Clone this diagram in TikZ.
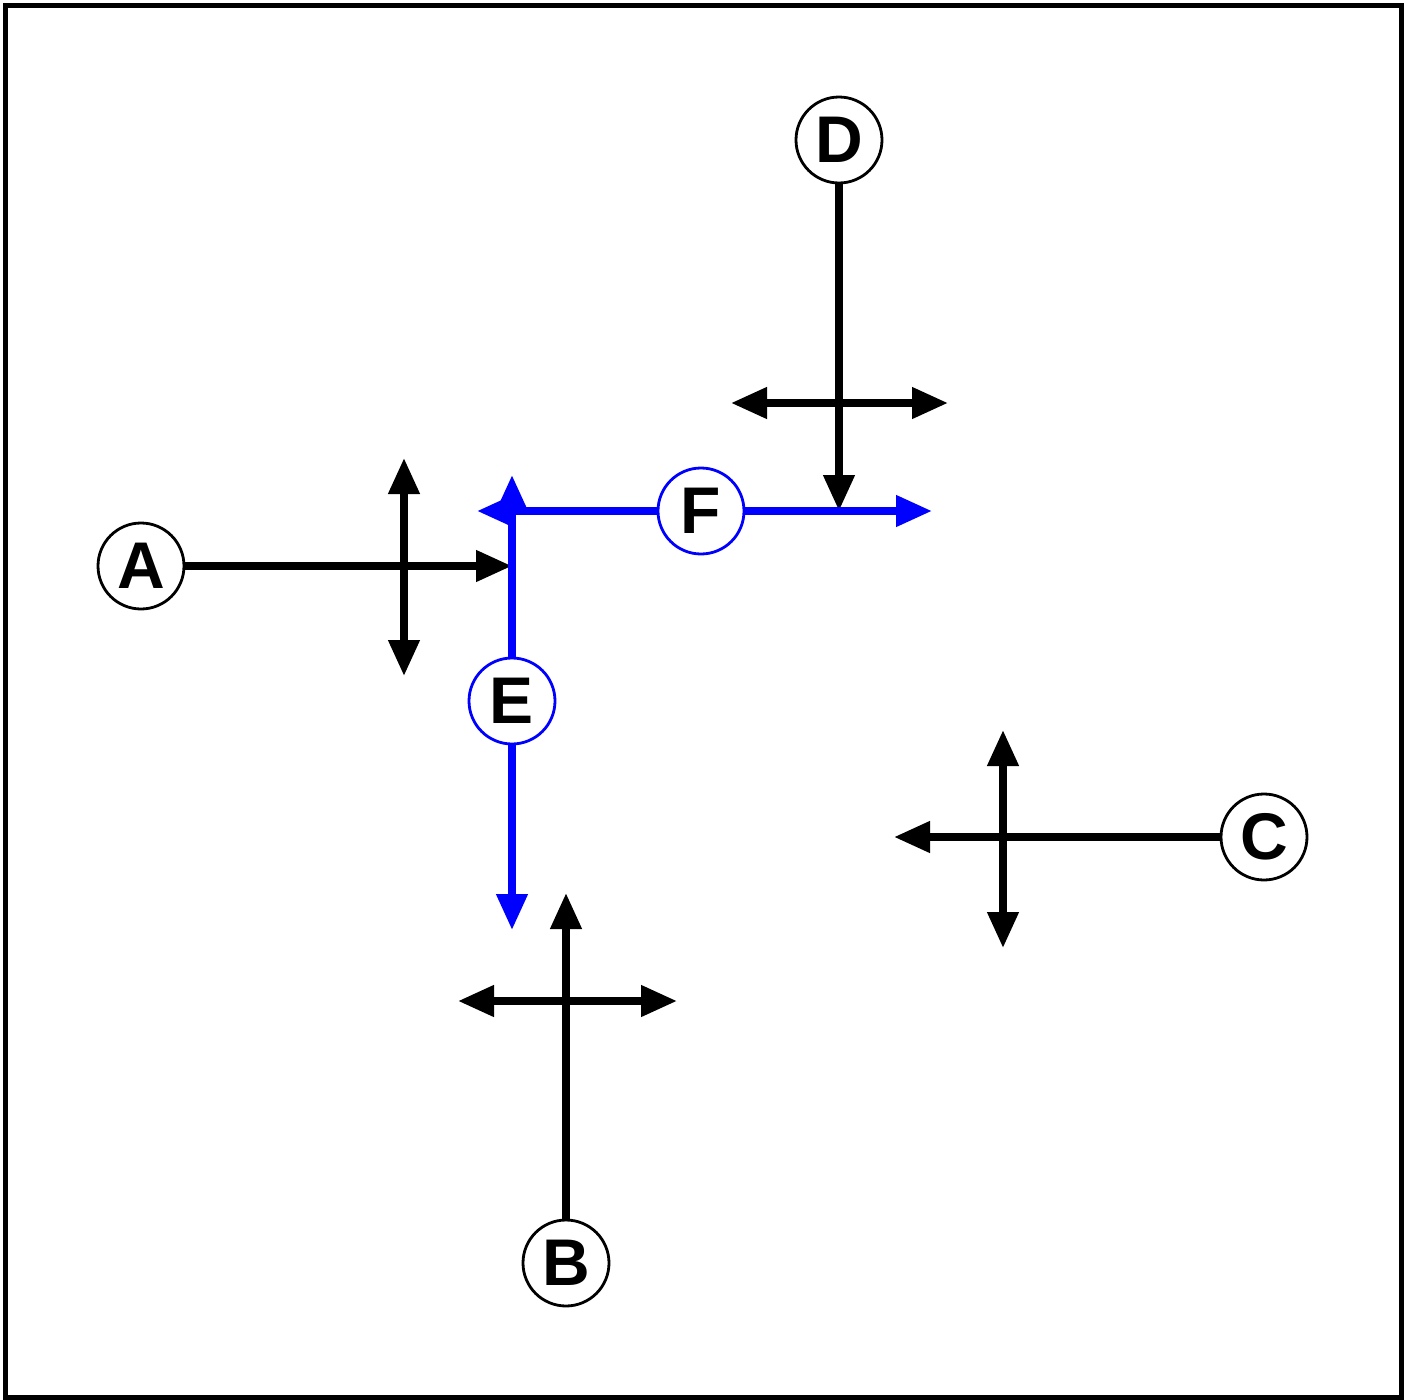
\documentclass[tikz,border=0pt]{standalone}
\usepackage{fontspec}
\setmainfont{Liberation Sans}
\usetikzlibrary{arrows.meta}
\begin{document}
\begin{tikzpicture}[x=1pt,y=-1pt,
  circ/.style={circle,draw=black,line width=2.8pt,fill=white,minimum size=86pt,inner sep=0pt,
    font=\fontsize{66}{72}\selectfont\bfseries},
  bcirc/.style={circ,draw=blue},
  conn/.style={line width=7.5pt,-{Triangle[length=36pt,width=30pt]}},
  dbl/.style={line width=7.5pt,{Triangle[length=36pt,width=30pt]}-{Triangle[length=36pt,width=30pt]}},
  bconn/.style={conn,draw=blue,color=blue}]
\useasboundingbox (0,0) rectangle (1409,1400);
\draw[line width=5pt] (5,5) rectangle (1401,1397);
% nodes
\node[circ] (A) at (141,566) {A};
\node[circ] (B) at (566,1263) {B};
\node[circ] (C) at (1264,837) {C};
\node[circ] (D) at (839,140) {D};
% endpoints
\coordinate (Aend) at (512,566);
\coordinate (Bend) at (566,893);
\coordinate (Cend) at (894,837);
\coordinate (Dend) at (839,511);
% crosses
\coordinate (ax1) at (404,458); \coordinate (ax2) at (404,676);
\coordinate (bx1) at (458,1001); \coordinate (bx2) at (677,1001);
\coordinate (cx1) at (1003,730); \coordinate (cx2) at (1003,948);
\coordinate (dx1) at (731,403); \coordinate (dx2) at (948,403);
\draw[conn] (A) -- (Aend);
\draw[conn] (B) -- (Bend);
\draw[conn] (C) -- (Cend);
\draw[conn] (D) -- (Dend);
\draw[dbl] (ax1) -- (ax2);
\draw[dbl] (bx1) -- (bx2);
\draw[dbl] (cx1) -- (cx2);
\draw[dbl] (dx1) -- (dx2);
% blue
\node[bcirc] (E) at (512,701) {E};
\node[bcirc] (F) at (701,511) {F};
\coordinate (Eup) at (512,475);
\coordinate (Edown) at (512,930);
\coordinate (Fleft) at (477,511);
\coordinate (Fright) at (932,511);
\draw[bconn] (E) -- (Edown);
\draw[bconn] (F) -- (Fright);
\draw[bconn] (F) -- (Fleft);
\draw[bconn] (E) -- (Eup);
\end{tikzpicture}
\end{document}
